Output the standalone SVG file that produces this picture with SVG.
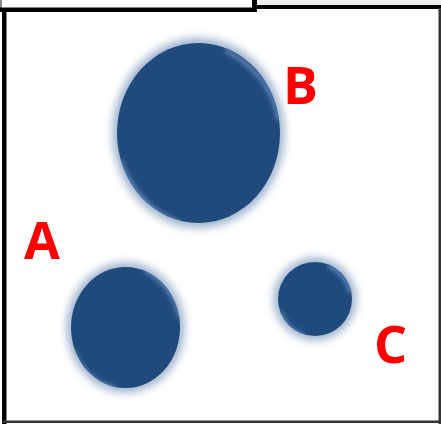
<svg xmlns="http://www.w3.org/2000/svg" width="441" height="424" viewBox="0 0 441 424">
<style>
.lbl{font-family:"Open Sans","Liberation Sans",Arial,sans-serif;font-weight:bold;font-size:52px;fill:#ff0000}
.glow{fill:#9fb3cd;filter:url(#blur)}
.body{fill:#214a7c}
.hl{fill:none;stroke:#5f86bb;stroke-width:4;filter:url(#hblur)}
</style>
<defs>
<filter id="blur" x="-30%" y="-30%" width="160%" height="160%"><feGaussianBlur stdDeviation="4.5"/></filter>
<filter id="hblur" x="-30%" y="-30%" width="160%" height="160%"><feGaussianBlur stdDeviation="2"/></filter>
<clipPath id="cB"><ellipse cx="198.5" cy="133" rx="81.5" ry="90"/></clipPath>
<clipPath id="cA"><ellipse cx="125.5" cy="327.5" rx="54.5" ry="60.5"/></clipPath>
<clipPath id="cC"><ellipse cx="315" cy="299" rx="37" ry="37"/></clipPath>
</defs>
<rect x="0" y="0" width="441" height="424" fill="#ffffff"/>
<rect x="257" y="0" width="184" height="6" fill="#eeeeee"/>
<g id="frame">
<rect x="0" y="0" width="2" height="8" fill="#888888"/>
<rect x="0" y="7.5" width="257" height="4.5" fill="#000000"/>
<rect x="252" y="0" width="5" height="12" fill="#000000"/>
<rect x="257" y="5" width="184" height="4" fill="#000000"/>
<rect x="2" y="8" width="4.5" height="416" fill="#000000"/>
<rect x="438.5" y="8" width="2.5" height="416" fill="#333333"/>
<rect x="2" y="420.5" width="439" height="2.5" fill="#333333"/>
</g>
<g id="B">
<ellipse class="glow" cx="198.5" cy="133" rx="86" ry="95"/>
<ellipse class="body" cx="198.5" cy="133" rx="81.5" ry="90"/>
<g clip-path="url(#cB)">
<path class="hl" d="M225,50 Q270,73 279,120"/>
<path class="hl" d="M120,160 Q138,208 180,223"/>
</g>
<text class="lbl" x="283" y="104">B</text>
</g>
<g id="A">
<ellipse class="glow" cx="125.5" cy="327.5" rx="59" ry="65"/>
<ellipse class="body" cx="125.5" cy="327.5" rx="54.5" ry="60.5"/>
<g clip-path="url(#cA)">
<path class="hl" d="M145,270 Q174,287 180,318"/>
<path class="hl" d="M73,350 Q86,382 115,388"/>
</g>
<text class="lbl" x="24" y="259">A</text>
</g>
<g id="C">
<ellipse class="glow" cx="315" cy="299" rx="41.5" ry="41.5"/>
<ellipse class="body" cx="315" cy="299" rx="37" ry="37"/>
<g clip-path="url(#cC)">
<path class="hl" d="M328,265 Q347,275 351,293"/>
<path class="hl" d="M280,312 Q288,332 305,336"/>
</g>
<text class="lbl" x="374" y="363">C</text>
</g>
</svg>
